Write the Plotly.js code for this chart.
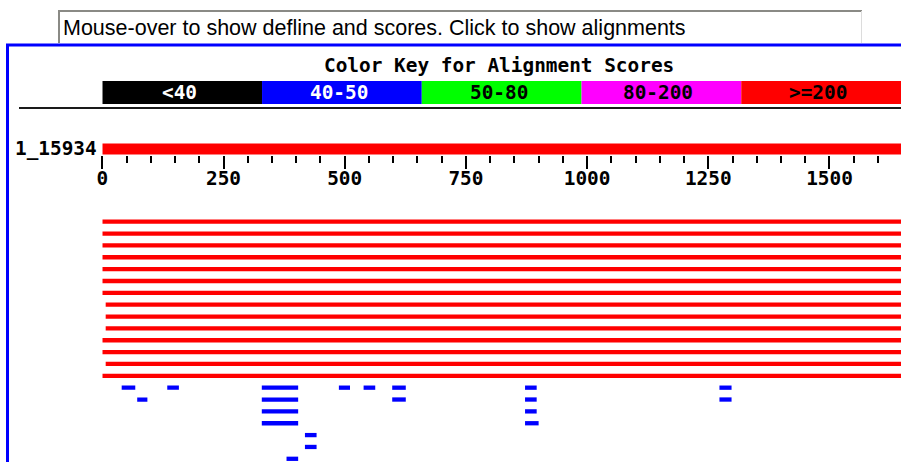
<!DOCTYPE html>
<html>
<head>
<meta charset="utf-8">
<script src="https://cdn.plot.ly/plotly-3.0.1.min.js"></script>
<style>html,body{margin:0;padding:0;background:#fff;}#chart{width:901px;height:462px;}</style>
</head>
<body>
<div id="chart"></div>
<script>
// ---------------- data ----------------
const headerText = "Mouse-over to show defline and scores. Click to show alignments";
const keyTitle = "Color Key for Alignment Scores";
const keyLabels = ["<40", "40-50", "50-80", "80-200", ">=200"];
const keyColors = ["#000000", "#0000ff", "#00ff00", "#ff00ff", "#ff0000"];
const keyTextColors = ["#ffffff", "#ffffff", "#000000", "#000000", "#000000"];

const queryName = "1_15934";
const queryLength = 1650;
const majorTicks = [0, 250, 500, 750, 1000, 1250, 1500];
const majorTickText = ["0", "250", "500", "750", "1000", "1250", "1500"];
const minorTicks = [50,100,150,200,300,350,400,450,550,600,650,700,800,850,900,950,1050,1100,1150,1200,1300,1350,1400,1450,1550,1600];

// hits scoring >=200 (red): one row each
const redRows   = [0, 1, 2, 3, 4, 5, 6, 7, 8, 9, 10, 11, 12, 13];
const redStarts = [0, 0, 0, 0, 0, 0, 0, 7, 7, 7, 0, 0, 7, 0];
const redEnds   = [1650,1650,1650,1650,1650,1650,1650,1650,1650,1650,1650,1650,1650,1650];

// hits scoring 40-50 (blue): several segments per row
const blueRows   = [14, 14, 14, 14, 14, 14, 14, 14, 15, 15, 15, 15, 15, 16, 16, 17, 17, 18, 19, 20];
const blueStarts = [40, 134, 329, 488, 539, 598, 872, 1273, 72, 329, 598, 872, 1273, 329, 872, 329, 872, 418, 418, 380];
const blueEnds   = [68, 158, 404, 511, 563, 626, 896, 1298, 93, 404, 626, 896, 1298, 404, 896, 404, 900, 442, 442, 404];

// ---------------- layout helpers ----------------
const W = 901, H = 462;
const px = x => x / W;
const py = y => 1 - y / H;
const MONO = "DejaVu Sans Mono";

// row geometry (pixel): row 0 at 221.7, spacing 11.855
const ROW0 = 221.7, ROWH = 11.855;
const rowOf = y => (y - ROW0) / ROWH;
const queryRow = rowOf(149);

function segs(rows, starts, ends) {
  const xs = [], ys = [];
  for (let i = 0; i < rows.length; i++) {
    xs.push(starts[i], ends[i], null);
    ys.push(rows[i], rows[i], null);
  }
  return {xs, ys};
}
const red = segs(redRows, redStarts, redEnds);
const blue = segs(blueRows, blueStarts, blueEnds);

const traces = [
  {type: "scatter", mode: "lines", x: [0, queryLength], y: [queryRow, queryRow],
   line: {color: "#ff0000", width: 11}, hoverinfo: "skip", showlegend: false},
  {type: "scatter", mode: "lines", x: red.xs, y: red.ys, connectgaps: false,
   line: {color: "#ff0000", width: 4.3}, hoverinfo: "skip", showlegend: false},
  {type: "scatter", mode: "lines", x: blue.xs, y: blue.ys, connectgaps: false,
   line: {color: "#0000ff", width: 4.3}, hoverinfo: "skip", showlegend: false},
  {type: "bar", orientation: "h", xaxis: "x2", yaxis: "y2",
   x: keyLabels.map(() => 1), base: keyLabels.map((_, i) => i), y: keyLabels.map(() => 0),
   width: 1, marker: {color: keyColors, line: {width: 0}}, hoverinfo: "skip", showlegend: false}
];

const annotations = [
  {xref: "paper", yref: "paper", x: px(61), y: py(28), xanchor: "left", yanchor: "middle",
   text: headerText, showarrow: false, font: {family: "Liberation Sans", size: 21.5, color: "#000"}},
  {xref: "paper", yref: "paper", x: px(499), y: py(66), xanchor: "center", yanchor: "middle",
   text: keyTitle, showarrow: false, font: {family: MONO, size: 19.4, color: "#000", weight: "bold"}},
  {xref: "paper", yref: "paper", x: px(99), y: py(148), xanchor: "right", yanchor: "middle",
   text: queryName, showarrow: false, font: {family: MONO, size: 19.4, color: "#000", weight: "bold"}}
];
keyLabels.forEach((lab, i) => {
  annotations.push({xref: "x2", yref: "y2", x: i + 0.5, y: 0, xanchor: "center", yanchor: "middle",
    xshift: -3, text: lab, showarrow: false,
    font: {family: MONO, size: 19.4, color: keyTextColors[i], weight: "bold"}});
});

const shapes = [
  // header box
  {type: "rect", xref: "paper", yref: "paper", x0: px(58), x1: px(862), y0: py(43), y1: py(10),
   fillcolor: "#ffffff", line: {width: 0}, layer: "below"},
  {type: "line", xref: "paper", yref: "paper", x0: px(58), x1: px(862), y0: py(11), y1: py(11),
   line: {color: "#8a8a85", width: 2}},
  {type: "line", xref: "paper", yref: "paper", x0: px(59), x1: px(59), y0: py(10), y1: py(43),
   line: {color: "#8a8a85", width: 2}},
  {type: "line", xref: "paper", yref: "paper", x0: px(861.5), x1: px(861.5), y0: py(11), y1: py(43),
   line: {color: "#dcdcdc", width: 1}},
  // blue frame
  {type: "line", xref: "paper", yref: "paper", x0: px(6), x1: px(901), y0: py(45), y1: py(45),
   line: {color: "#0000ff", width: 3}},
  {type: "line", xref: "paper", yref: "paper", x0: px(7.5), x1: px(7.5), y0: py(44), y1: py(462),
   line: {color: "#0000ff", width: 3}},
  // separator under the key
  {type: "line", xref: "paper", yref: "paper", x0: px(19), x1: px(901), y0: py(108), y1: py(108),
   line: {color: "#1a1a1a", width: 2}}
];

const layout = {
  width: W, height: H,
  margin: {l: 0, r: 0, t: 0, b: 0, pad: 0},
  paper_bgcolor: "#ffffff", plot_bgcolor: "rgba(0,0,0,0)",
  showlegend: false,
  xaxis: {
    domain: [102.3 / W, 1], range: [0, 1647.5], anchor: "free", position: py(154.5), side: "bottom",
    showgrid: false, zeroline: false, showline: false,
    tickmode: "array", tickvals: majorTicks, ticktext: majorTickText,
    ticks: "outside", ticklen: 13, tickwidth: 2, tickcolor: "#000", ticklabelstandoff: -7,
    tickfont: {family: MONO, size: 19.4, color: "#000", weight: "bold"},
    minor: {tickmode: "array", tickvals: minorTicks, ticks: "outside", ticklen: 7, tickwidth: 2, tickcolor: "#000", showgrid: false},
    fixedrange: true
  },
  yaxis: {
    domain: [0, 1], range: [rowOf(462), rowOf(0)], visible: false, fixedrange: true
  },
  xaxis2: {domain: [102.3 / W, 1], range: [0, 5], anchor: "y2", visible: false, fixedrange: true},
  yaxis2: {domain: [py(104), py(81)], range: [-0.5, 0.5], anchor: "x2", visible: false, fixedrange: true},
  barmode: "overlay",
  annotations: annotations,
  shapes: shapes
};

Plotly.newPlot("chart", traces, layout, {staticPlot: true, displayModeBar: false});
</script>
</body>
</html>
